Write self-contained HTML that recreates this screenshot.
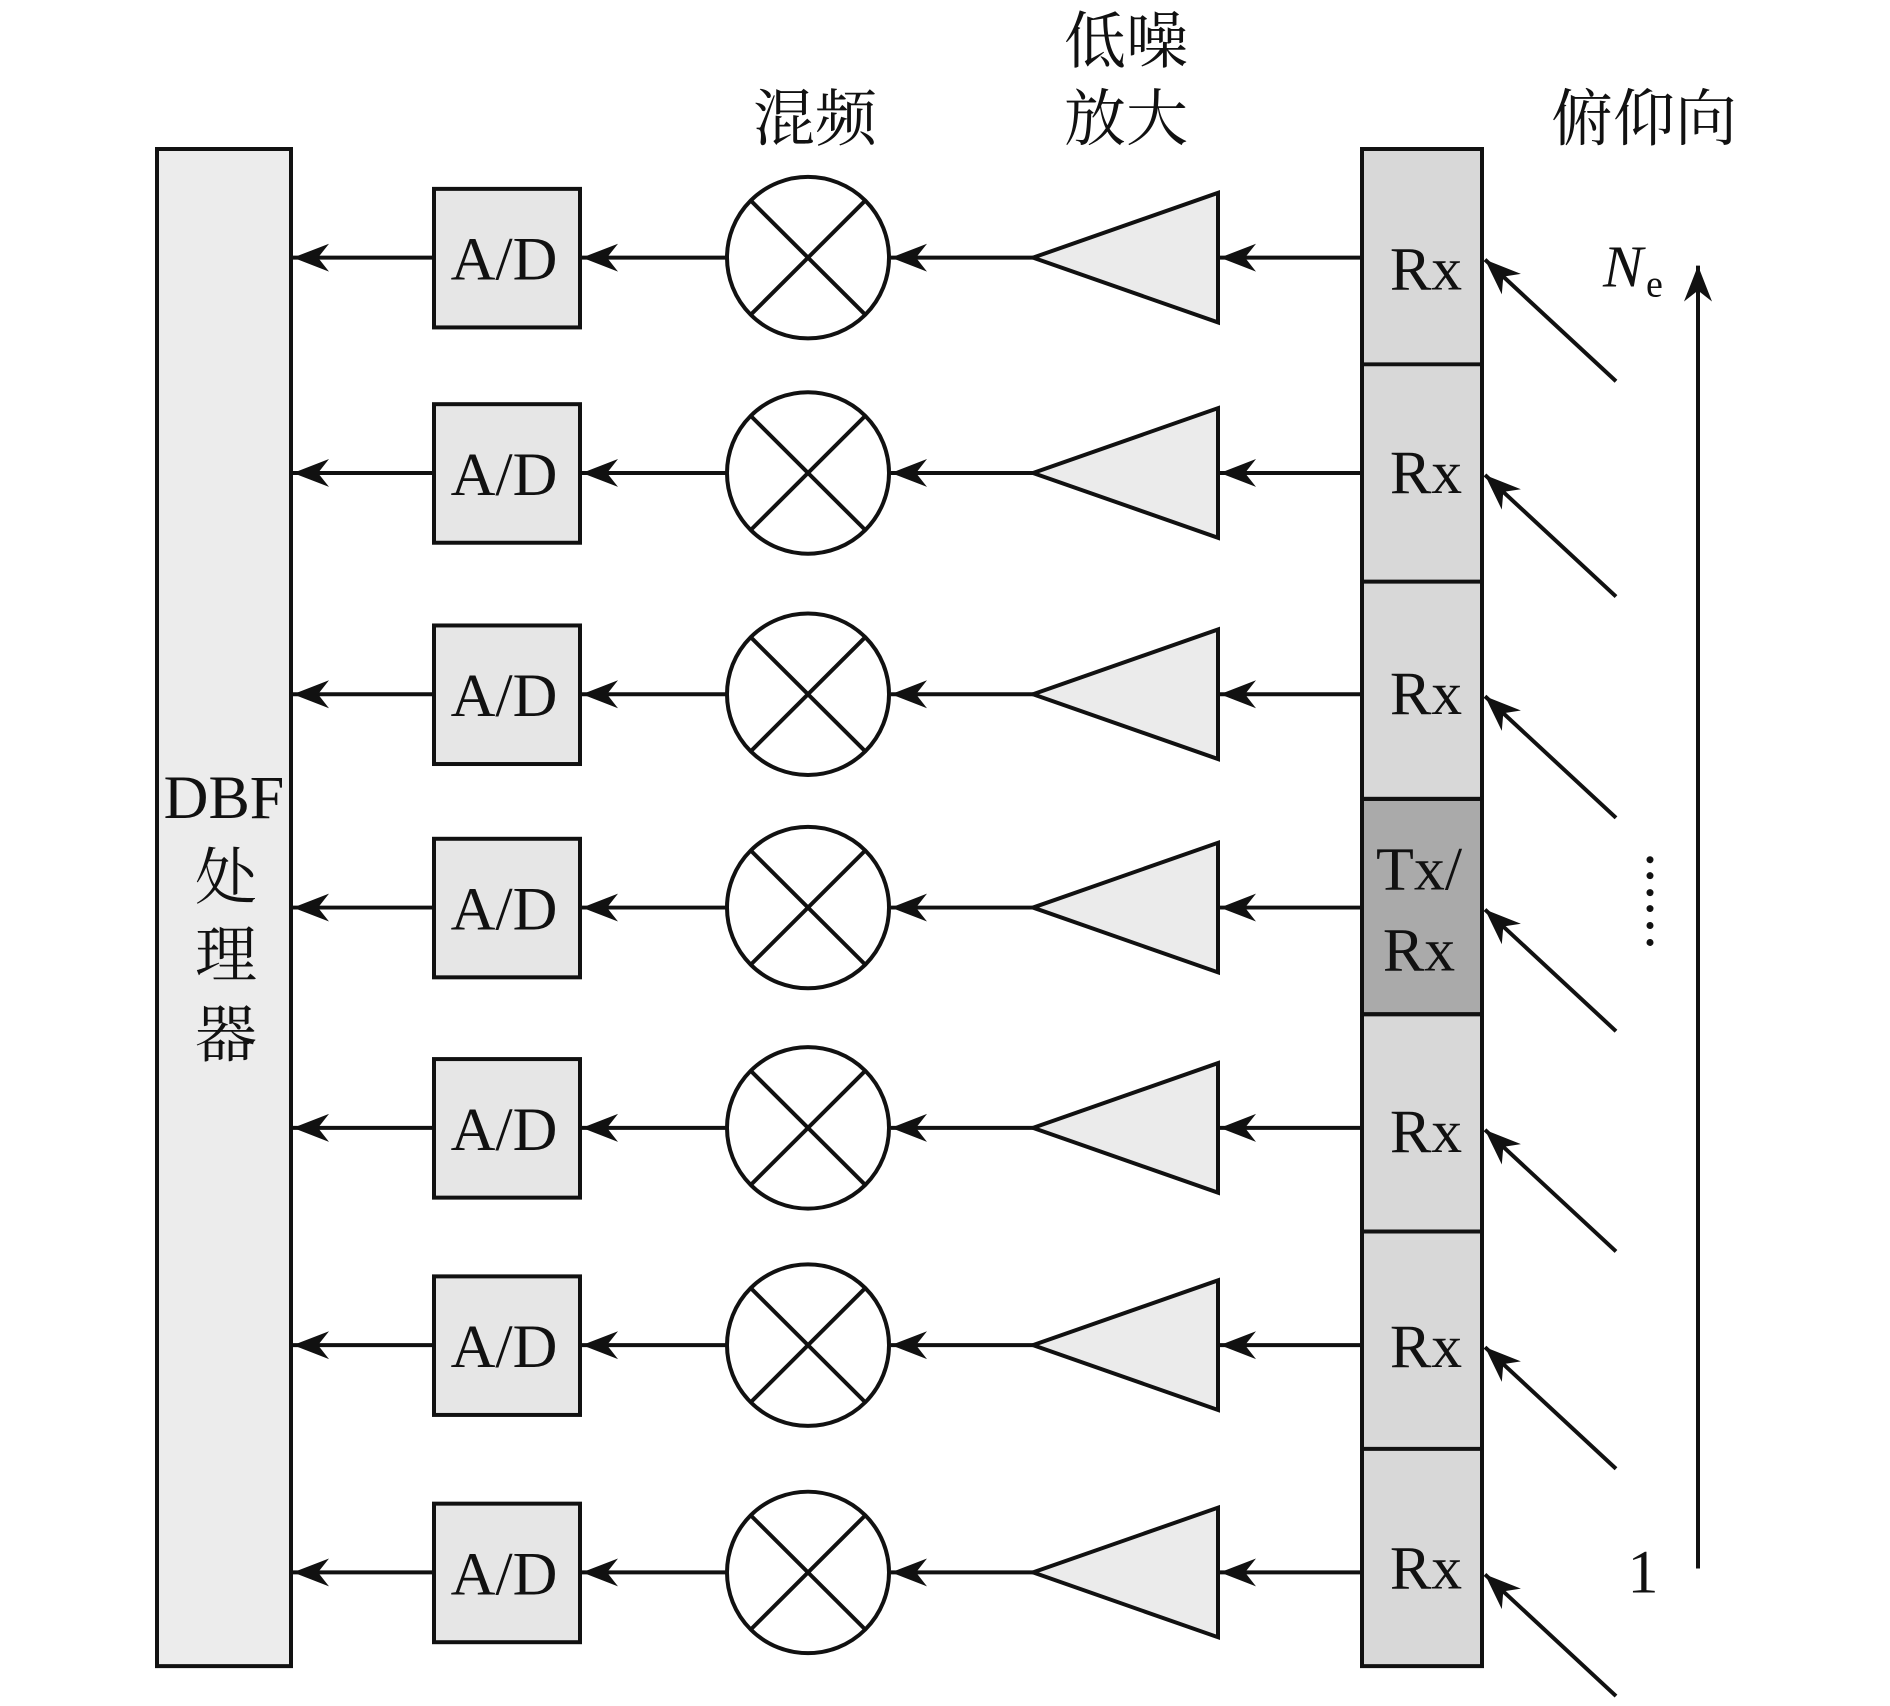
<!DOCTYPE html>
<html><head><meta charset="utf-8"><style>
html,body{margin:0;padding:0;background:#fff}
svg{display:block}
text{font-family:"Liberation Serif","Noto Serif CJK SC",serif;fill:#111}
.cjk{font-family:"Noto Serif CJK SC","Liberation Serif",serif}
</style></head><body>
<svg width="1890" height="1706" viewBox="0 0 1890 1706" xmlns="http://www.w3.org/2000/svg">
<defs>
<marker id="ah" markerWidth="40" markerHeight="30" refX="0" refY="0" viewBox="-40 -15 40 30" orient="auto-start-reverse" markerUnits="userSpaceOnUse">
<path d="M0,0 L-36,-14 L-25,0 L-36,14 Z" fill="#111"/>
</marker>
<g id="row" stroke="#111" stroke-width="4">
<line x1="295" y1="0" x2="436" y2="0" marker-start="url(#ah)"/>
<rect x="436" y="-69" width="146" height="139" fill="#e6e6e6"/>
<line x1="584" y1="0" x2="729" y2="0" marker-start="url(#ah)"/>
<circle cx="810" cy="0" r="81" fill="#fff"/>
<line x1="753" y1="-57" x2="867" y2="57"/>
<line x1="753" y1="57" x2="867" y2="-57"/>
<line x1="893" y1="0" x2="1035" y2="0" marker-start="url(#ah)"/>
<path d="M1035,0 L1220,-65 L1220,65 Z" fill="#ebebeb"/>
<line x1="1222" y1="0" x2="1364" y2="0" marker-start="url(#ah)"/>
<line x1="1487" y1="2" x2="1618" y2="124" marker-start="url(#ah)"/>
</g>
</defs>
<g transform="translate(-2,149) scale(1,0.9968) translate(0,-149)">
<rect x="159" y="149" width="134" height="1522" fill="#ececec" stroke="#111" stroke-width="4"/>
<use href="#row" transform="translate(0,258)"/>
<use href="#row" transform="translate(0,474)"/>
<use href="#row" transform="translate(0,696)"/>
<use href="#row" transform="translate(0,910)"/>
<use href="#row" transform="translate(0,1131)"/>
<use href="#row" transform="translate(0,1349)"/>
<use href="#row" transform="translate(0,1577)"/>
<g stroke="#111" stroke-width="4">
<rect x="1364" y="149" width="120" height="1522" fill="#d8d8d8"/>
<rect x="1364" y="801" width="120" height="216" fill="#aaaaaa"/>
<line x1="1364" y1="365" x2="1484" y2="365"/>
<line x1="1364" y1="583" x2="1484" y2="583"/>
<line x1="1364" y1="801" x2="1484" y2="801"/>
<line x1="1364" y1="1017" x2="1484" y2="1017"/>
<line x1="1364" y1="1235" x2="1484" y2="1235"/>
<line x1="1364" y1="1453" x2="1484" y2="1453"/>
<line x1="1700" y1="1573" x2="1700" y2="266" marker-end="url(#ah)"/>
</g>
<g fill="#111">
<circle cx="1652" cy="862" r="3.5"/><circle cx="1652" cy="878" r="3.5"/><circle cx="1652" cy="895" r="3.5"/><circle cx="1652" cy="911" r="3.5"/><circle cx="1652" cy="928" r="3.5"/><circle cx="1652" cy="945" r="3.5"/>
</g>
<g font-size="62" text-anchor="middle">
<text x="506" y="280">A/D</text><text x="506" y="496">A/D</text><text x="506" y="718">A/D</text><text x="506" y="932">A/D</text><text x="506" y="1153">A/D</text><text x="506" y="1371">A/D</text><text x="506" y="1599">A/D</text>
<text x="1428" y="290">Rx</text><text x="1428" y="494">Rx</text><text x="1428" y="716">Rx</text><text x="1421" y="892">Tx/</text><text x="1421" y="973">Rx</text><text x="1428" y="1155">Rx</text><text x="1428" y="1371">Rx</text><text x="1428" y="1593">Rx</text>
<text x="226" y="820">DBF</text>
<text x="1645" y="1597">1</text>
</g>
<text x="1605" y="287" font-size="60" font-style="italic">N</text><text x="1648" y="297" font-size="38">e</text>
<g class="cjk" font-size="62" text-anchor="middle">
<text class="cjk" x="228" y="901">处</text><text class="cjk" x="228" y="979">理</text><text class="cjk" x="228" y="1059">器</text>
<text class="cjk" x="817" y="140">混频</text>
<text class="cjk" x="1128" y="62">低噪</text><text class="cjk" x="1128" y="140">放大</text>
<text class="cjk" x="1646" y="140">俯仰向</text>
</g>
</g>
</svg>
</body></html>
